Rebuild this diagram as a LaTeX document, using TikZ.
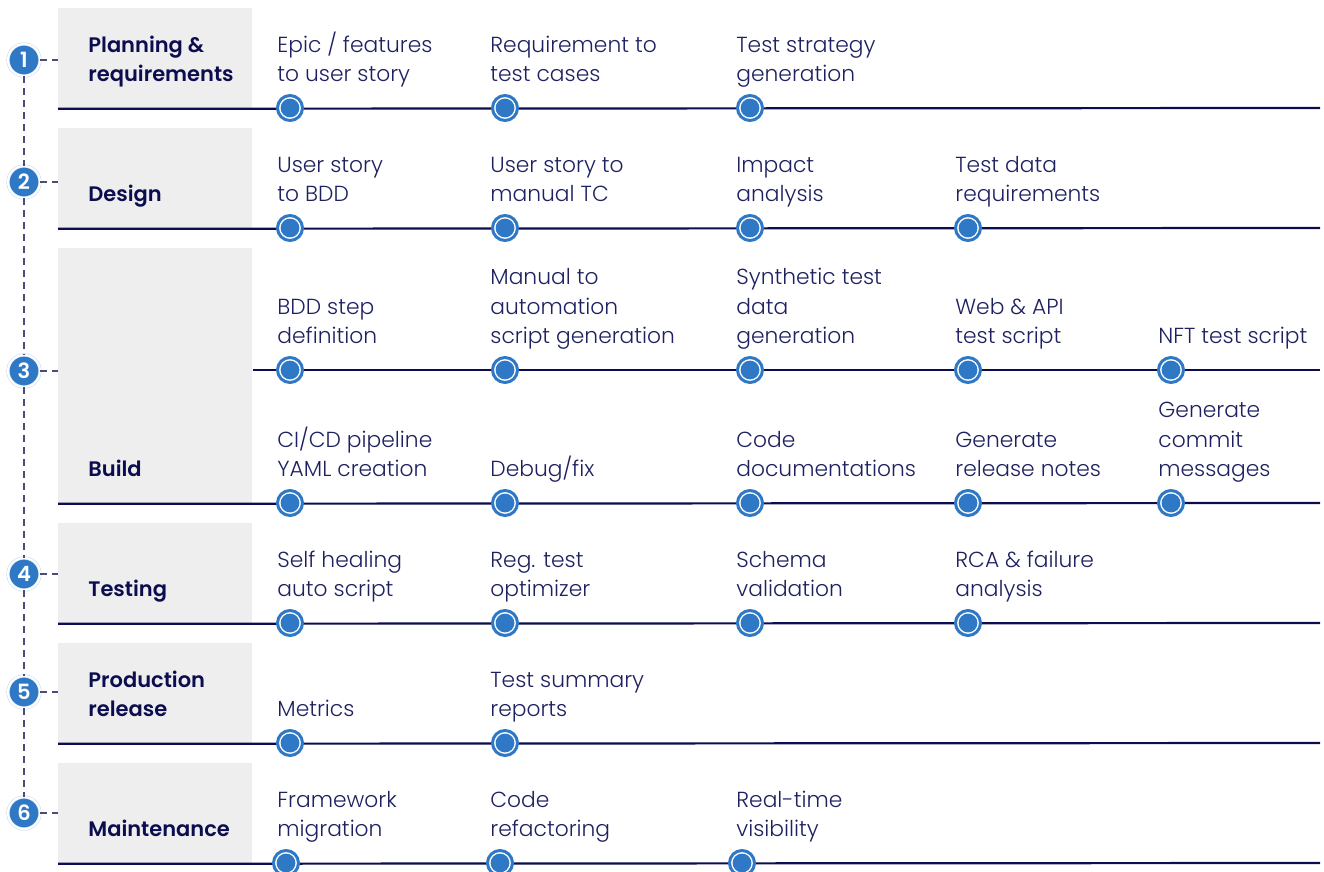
\documentclass[tikz,border=0pt]{standalone}
\usepackage{fontspec}
\setmainfont{Poppins}[UprightFont=* Light, BoldFont=* SemiBold]
\usetikzlibrary{positioning}
\definecolor{navy}{HTML}{0B0D4F}
\definecolor{taskink}{HTML}{1E2160}
\definecolor{markblue}{HTML}{2F78C5}
\definecolor{boxgray}{HTML}{EEEEEE}
\definecolor{guidegray}{HTML}{4A4D7A}

\begin{document}
\begin{tikzpicture}[x=0.5pt,y=-0.5pt,
  stage box/.style={fill=boxgray,anchor=north west,minimum width=97pt,minimum height=50pt,inner sep=0},
  stage label/.style={anchor=south west,inner sep=0,text depth=0pt,align=left,text=navy,
                      font=\bfseries\fontsize{10.5}{14.7}\selectfont},
  task/.style={anchor=south west,inner sep=0,text depth=0pt,align=left,text=taskink,
               font=\fontsize{10.9}{14.7}\selectfont},
  dot node/.style={circle,draw=markblue,line width=1.5pt,fill=white,minimum size=12.5pt,inner sep=0,
                   path picture={\fill[markblue] (path picture bounding box.center) circle (4.7pt);}},
  num node/.style={circle,fill=markblue,draw=markblue!25,double=white,double distance=1pt,line width=0.3pt,
                   minimum size=16pt,inner sep=0,text=white,font=\bfseries\fontsize{10.5}{12}\selectfont},
  rail/.style={navy,line width=1.1pt},
  guide/.style={guidegray,line width=0.8pt,dash pattern=on 3.5pt off 2.5pt}]

  \useasboundingbox (0,0) rectangle (1324,872);

  % stage boxes
  \node[stage box] (b1) at (58,8) {};
  \node[stage box] (b2) at (58,128) {};
  \node[stage box,minimum height=127.5pt] (b3) at (58,248) {};
  \node[stage box] (b4) at (58,523) {};
  \node[stage box] (b5) at (58,643) {};
  \node[stage box] (b6) at (58,763) {};

  \node[stage label] (l1) at (88,82) {Planning \&\\requirements};
  \node[stage label] (l2) at (88,202) {Design};
  \node[stage label] (l3) at (88,477) {Build};
  \node[stage label] (l4) at (88,597) {Testing};
  \node[stage label] (l5) at (88,717) {Production\\release};
  \node[stage label] (l6) at (88,837) {Maintenance};

  % step numbers
  \node[num node] (n1) at (24,60) {1};
  \node[num node] (n2) at (24,182) {2};
  \node[num node] (n3) at (24,371) {3};
  \node[num node] (n4) at (24,574) {4};
  \node[num node] (n5) at (24,692) {5};
  \node[num node] (n6) at (24,813) {6};

  \draw[guide] (n1) -- (n2) (n2) -- (n3) (n3) -- (n4) (n4) -- (n5) (n5) -- (n6);
  \draw[guide] (n1) -- (n1 -| b1.west);
  \draw[guide] (n2) -- (n2 -| b2.west);
  \draw[guide] (n3) -- (n3 -| b3.west);
  \draw[guide] (n4) -- (n4 -| b4.west);
  \draw[guide] (n5) -- (n5 -| b5.west);
  \draw[guide] (n6) -- (n6 -| b6.west);

  % rails
  \coordinate (r1) at (1320,108);
  \coordinate (r2) at (1320,228);
  \coordinate (r3a) at (1320,370);
  \coordinate (r3) at (1320,503);
  \coordinate (r4) at (1320,623);
  \coordinate (r5) at (1320,743);
  \coordinate (r6) at (1320,863);
  \draw[rail] (b1.south west) -- (r1);
  \draw[rail] (b2.south west) -- (r2);
  \draw[rail] (b3.east |- r3a) -- (r3a);
  \draw[rail] (b3.south west) -- (r3);
  \draw[rail] (b4.south west) -- (r4);
  \draw[rail] (b5.south west) -- (r5);
  \draw[rail] (b6.south west) -- (r6);

  % planning & requirements
  \node[task] (t11) at (277,82) {Epic / features\\to user story};
  \node[task] (t12) at (490,82) {Requirement to\\test cases};
  \node[task] (t13) at (736,82) {Test strategy\\generation};
  \node[dot node] (d11) at (290,108) {};
  \node[dot node] (d12) at (505,108) {};
  \node[dot node] (d13) at (750,108) {};

  % design
  \node[task] (t21) at (277,202) {User story\\to BDD};
  \node[task] (t22) at (490,202) {User story to\\manual TC};
  \node[task] (t23) at (736,202) {Impact\\analysis};
  \node[task] (t24) at (955,202) {Test data\\requirements};
  \node[dot node] (d21) at (290,228) {};
  \node[dot node] (d22) at (505,228) {};
  \node[dot node] (d23) at (750,228) {};
  \node[dot node] (d24) at (968,228) {};

  % build
  \node[task] (t31) at (277,344) {BDD step\\definition};
  \node[task] (t32) at (490,344) {Manual to\\automation\\script generation};
  \node[task] (t33) at (736,344) {Synthetic test\\data\\generation};
  \node[task] (t34) at (955,344) {Web \& API\\test script};
  \node[task] (t35) at (1158,344) {NFT test script};
  \node[dot node] (d31) at (290,370) {};
  \node[dot node] (d32) at (505,370) {};
  \node[dot node] (d33) at (750,370) {};
  \node[dot node] (d34) at (968,370) {};
  \node[dot node] (d35) at (1171,370) {};

  \node[task] (t36) at (277,477) {CI/CD pipeline\\YAML creation};
  \node[task] (t37) at (490,477) {Debug/fix};
  \node[task] (t38) at (736,477) {Code\\documentations};
  \node[task] (t39) at (955,477) {Generate\\release notes};
  \node[task] (t310) at (1158,477) {Generate\\commit\\messages};
  \node[dot node] (d36) at (290,503) {};
  \node[dot node] (d37) at (505,503) {};
  \node[dot node] (d38) at (750,503) {};
  \node[dot node] (d39) at (968,503) {};
  \node[dot node] (d310) at (1171,503) {};

  % testing
  \node[task] (t41) at (277,597) {Self healing\\auto script};
  \node[task] (t42) at (490,597) {Reg. test\\optimizer};
  \node[task] (t43) at (736,597) {Schema\\validation};
  \node[task] (t44) at (955,597) {RCA \& failure\\analysis};
  \node[dot node] (d41) at (290,623) {};
  \node[dot node] (d42) at (505,623) {};
  \node[dot node] (d43) at (750,623) {};
  \node[dot node] (d44) at (968,623) {};

  % production release
  \node[task] (t51) at (277,717) {Metrics};
  \node[task] (t52) at (490,717) {Test summary\\reports};
  \node[dot node] (d51) at (290,743) {};
  \node[dot node] (d52) at (505,743) {};

  % maintenance
  \node[task] (t61) at (277,837) {Framework\\migration};
  \node[task] (t62) at (490,837) {Code\\refactoring};
  \node[task] (t63) at (736,837) {Real-time\\visibility};
  \node[dot node] (d61) at (286,863) {};
  \node[dot node] (d62) at (500,863) {};
  \node[dot node] (d63) at (742,863) {};
\end{tikzpicture}
\end{document}
